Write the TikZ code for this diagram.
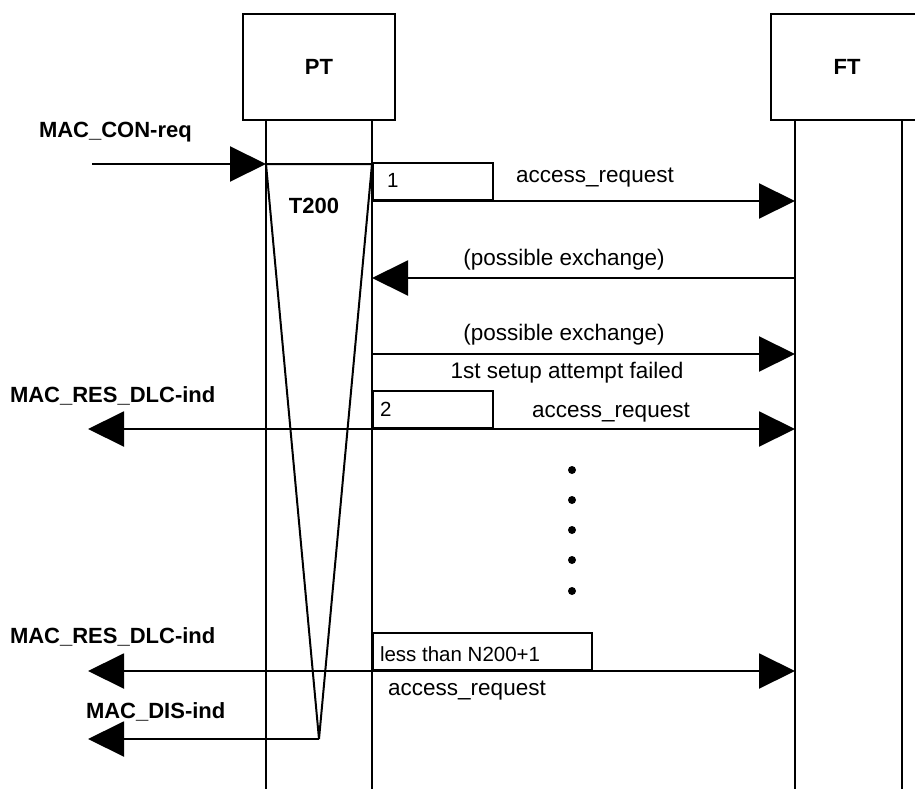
\documentclass[tikz,border=0pt]{standalone}
\usepackage{fontspec}
\setmainfont{Liberation Sans}
\usepackage{tikz}
\usetikzlibrary{arrows.meta, positioning}
\newcommand{\msgfont}{\fontsize{22.5}{26}\selectfont}
\newcommand{\tagfont}{\fontsize{20.5}{24}\selectfont}
\newcommand{\sigfont}{\fontsize{22}{26}\selectfont\bfseries}
\tikzstyle{msg} = [-{Triangle[length=36pt, width=35pt]}, line width=2pt]
\tikzstyle{msgboth} = [{Triangle[length=36pt, width=35pt]}-{Triangle[length=36pt, width=35pt]}, line width=2pt]
\tikzstyle{lifebox} = [draw, line width=2pt, minimum width=152pt, minimum height=106pt, inner sep=0pt, font=\sigfont]
\tikzstyle{tagbox} = [draw, line width=2pt, anchor=south west, minimum height=37pt, inner sep=0pt]
\tikzstyle{txt} = [inner sep=0pt, anchor=base, font=\msgfont]
\tikzstyle{sig} = [inner sep=0pt, anchor=base west, font=\sigfont]
\tikzstyle{tag} = [inner sep=0pt, anchor=base west, font=\tagfont]

\begin{document}
\begin{tikzpicture}[x=1pt, y=-1pt, line width=2pt]
    \useasboundingbox (0,0) rectangle (915,789);
    \clip (0,0) rectangle (915,789);
    % entities and lifelines
    \node[lifebox] (pt) at (319,67) {PT};
    \node[lifebox] (ft) at (847,67) {FT};
    \coordinate (ptA) at (266,120);
    \coordinate (ptB) at (372,120);
    \coordinate (ftA) at (795,120);
    \coordinate (ftB) at (902,120);
    \coordinate (bot) at (0,789);
    \draw (ptA) -- (ptA |- bot);
    \draw (ptB) -- (ptB |- bot);
    \draw (ftA) -- (ftA |- bot);
    \draw (ftB) -- (ftB |- bot);
    % message rows
    \coordinate (r0) at (0,164);
    \coordinate (r1) at (0,201);
    \coordinate (r2) at (0,278);
    \coordinate (r3) at (0,354);
    \coordinate (r4) at (0,429);
    \coordinate (r5) at (0,671);
    \coordinate (r6) at (0,739);
    \coordinate (conin) at (92,164);
    \coordinate (resout1) at (88,429);
    \coordinate (resout2) at (88,671);
    \coordinate (disout) at (88,739);
    \coordinate (apex) at (319,739);
    % timer T200
    \draw (ptA |- r0) -- (ptB |- r0) -- (apex) -- cycle;
    \node[sig, anchor=base] (t200) at (314,213) {T200};
    % MAC_CON-req
    \node[sig] (conreq) at (38,137) {MAC\_CON-req};
    \draw[msg] (conin) -- (ptA |- r0);
    % first access_request
    \node[tagbox, minimum width=120pt] (box1) at (ptB |- r1) {};
    \node[tag] (n1) at (386,187) {1};
    \node[txt] (acc1) at (595,182) {access\_request};
    \draw[msg] (ptB |- r1) -- (ftA |- r1);
    % possible exchanges
    \node[txt] (pex1) at (564,265) {(possible exchange)};
    \draw[msg] (ftA |- r2) -- (ptB |- r2);
    \node[txt] (pex2) at (564,340) {(possible exchange)};
    \draw[msg] (ptB |- r3) -- (ftA |- r3);
    \node[txt] (fail) at (567,378) {1st setup attempt failed};
    % second access_request
    \node[tagbox, minimum width=120pt] (box2) at (ptB |- r4) {};
    \node[tag] (n2) at (379,416) {2};
    \node[txt] (acc2) at (611,417) {access\_request};
    \node[sig] (res1) at (9,402) {MAC\_RES\_DLC-ind};
    \draw[msgboth] (resout1) -- (ftA |- r4);
    % dots
    \foreach \y in {470,500,530,560,591}
        \fill (572,\y) circle (4pt);
    % last access_request
    \node[tagbox, minimum width=219pt] (box3) at (ptB |- r5) {};
    \node[tag] (nlast) at (379,661) {less than N200+1};
    \node[txt] (acc3) at (467,695) {access\_request};
    \node[sig] (res2) at (9,643) {MAC\_RES\_DLC-ind};
    \draw[msgboth] (resout2) -- (ftA |- r5);
    % T200 expiry
    \node[sig] (dis) at (85,718) {MAC\_DIS-ind};
    \draw[msg] (apex) -- (disout);
\end{tikzpicture}
\end{document}
